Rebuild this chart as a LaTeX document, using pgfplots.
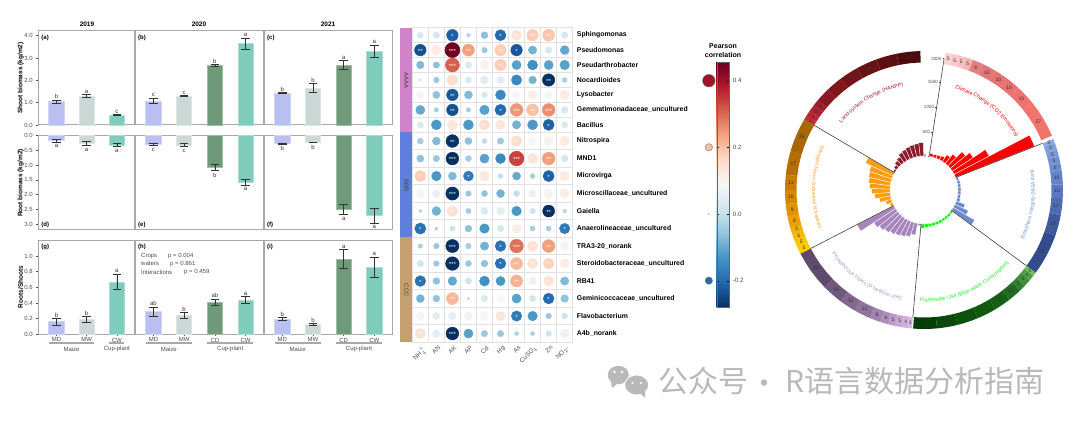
\documentclass[border=0pt]{standalone}
\usepackage{fontspec}
\setmainfont{Liberation Sans}
\newfontfamily\cjk{Noto Sans CJK SC}
\usepackage{pgfplots}
\usepackage{pgfplotstable}
\pgfplotsset{compat=1.18}
\usepgfplotslibrary{polar}
\usetikzlibrary{decorations.text}

\definecolor{cMD}{HTML}{B9C0F1}
\definecolor{cMW}{HTML}{CCD8D5}
\definecolor{cCD}{HTML}{6F9A79}
\definecolor{cCW}{HTML}{80CCBC}
\definecolor{pframe}{HTML}{A8A8A8}
\definecolor{tk}{HTML}{4D4D4D}
\definecolor{cellgrid}{HTML}{E2E2E2}
\definecolor{stripA}{HTML}{D183C9}
\definecolor{stripB}{HTML}{5F7FDC}
\definecolor{stripC}{HTML}{C4A070}
\definecolor{wm}{HTML}{B9B9B9}
\definecolor{cB}{HTML}{6E8BCE}
\definecolor{cP}{HTML}{A585BC}
\definecolor{cO}{HTML}{FF9C0F}
\definecolor{cM}{HTML}{8A1C2C}
\definecolor{txM}{HTML}{A01C3E}
\definecolor{txO}{HTML}{FF9F2A}
\definecolor{txB}{HTML}{7B93D6}
\definecolor{txG}{HTML}{22EE22}
\definecolor{txP}{HTML}{AC90C4}

\newcommand\fs[1]{\fontsize{#1}{#1}\selectfont}

\pgfplotsset{
  colormap={rdbu}{HTML=(053061) HTML=(2166AC) HTML=(4393C3) HTML=(92C5DE) HTML=(D1E5F0)
    HTML=(F7F7F7) HTML=(FDDBC7) HTML=(F4A582) HTML=(D6604D) HTML=(B2182B) HTML=(67001F)},
  /pgf/number format/assume math mode=true,
  panel/.style={scale only axis, anchor=south west, clip=false, xmin=-0.6,
    axis line style={draw=pframe,line width=1pt},
    tick style={draw=tk,line width=.4pt}, major tick length=2pt, tick align=outside,
    xtick pos=bottom, ytick pos=left,
    ticklabel style={font=\fs{6},text=tk},
    yticklabel style={/pgf/number format/fixed,/pgf/number format/fixed zerofill,/pgf/number format/precision=1},
    xticklabel style={yshift=2pt}},
  shoot/.style={panel,height=94pt,ymin=0,ymax=4.21,xtick=\empty},
  root/.style={panel,height=93.3pt,ymin=0,ymax=3.17,y dir=reverse,xtick=\empty},
  ratio/.style={panel,height=94.3pt,ymin=0,ymax=1.204},
}

% one bar with its error bar and letter
\newcommand\bb[6]{%
  \addplot[ybar,bar shift=0pt,bar width=15.3pt,fill=#4,draw=#4!65!white,line width=.6pt,
    error bars/.cd,y dir=both,y explicit,
    error bar style={black!80,line width=.6pt},
    error mark options={rotate=90,black!80,mark size=4.3pt,line width=.6pt}]
    coordinates {(#1,#2) +- (0,#3)};
  \node[font=\fs{6},text=black!80,anchor=#6,inner sep=1pt] at (axis cs:#1,{#2+#3}) {#5};}
\newcommand\bu[5]{\bb{#1}{#2}{#3}{#4}{#5}{south}}
\newcommand\bd[5]{\bb{#1}{#2}{#3}{#4}{#5}{north,yshift=-1.5pt}}
\newcommand\plab[1]{\node[font=\bfseries\fs{6},anchor=north west,inner sep=0pt] at (rel axis cs:0,1) [xshift=3pt,yshift=-3.5pt] {#1};}
\newcommand\plabd[1]{\node[font=\bfseries\fs{6},anchor=south west,inner sep=0pt] at (rel axis cs:0,0) [xshift=3pt,yshift=1.5pt] {#1};}
% underline and group name below a ratio panel
\newcommand\grp[3]{%
  \draw[pframe,line width=1.2pt] (axis cs:#1,-0.111) -- (axis cs:#2,-0.111);
  \node[font=\fs{6},text=tk] at (axis cs:{(#1+#2)/2},-0.19) {#3};}

% circular chart helpers, radius in px, values 0..2000 over 100 px from radius 34
\newcount\segno
\newcommand\ringstart[1]{\def\acur{#1}}
\newcommand\ringseg[2]{%
  \global\advance\segno by 1
  \definecolor{seg\the\segno}{HTML}{#2}%
  \pgfmathsetmacro\aend{\acur-#1*0.58}%
  \pgfmathsetmacro\aq{\acur-#1*0.145}%
  \pgfmathsetmacro\am{\acur-#1*0.29}%
  \pgfmathsetmacro\ar{\acur-#1*0.435}%
  \edef\tmp{\noexpand\addplot[fill=seg\the\segno,draw=none] coordinates {(\acur,127.5)(\acur,139)(\aq,139)(\am,139)(\ar,139)(\aend,139)(\aend,127.5)(\ar,127.5)(\am,127.5)(\aq,127.5)} --cycle;
    \noexpand\node[font=\noexpand\fs{5},text=black!80,inner sep=0pt] at (axis cs:\am,133.2) {#1};}%
  \tmp
  \let\acur\aend}
\newcommand\sectorbars[4]{%
  \pgfmathsetmacro\bcur{#1}%
  \pgfmathsetmacro\bstep{(#2-#1)/10}%
  \pgfplotsforeachungrouped \vv in {#4}{%
    \pgfmathsetmacro\bnext{\bcur+\bstep}%
    \pgfmathsetmacro\rr{34+\vv/20}%
    \edef\tmp{\noexpand\addplot[fill=#3,draw=white,line width=.35pt] coordinates {(\bcur,34)(\bcur,\rr)(\bnext,\rr)(\bnext,34)} --cycle;}%
    \tmp
    \let\bcur\bnext}}
\newcommand\rline[1]{\addplot[black!75,line width=.6pt] coordinates {(#1,34) (#1,127.5)};}
\newcommand\rtick[2]{%
  \draw[black!75,line width=.3pt] (axis cs:81.3,#1) -- ++(-1.5pt,0);
  \node[font=\fs{4.5},text=black!70,anchor=east,inner sep=1pt] at (axis cs:81.3,#1) [xshift=-1.5pt] {#2};}
\newcommand\arclabel[5]{% colour, radius, start, end, text
  \path[decorate,decoration={text along path,text align=center,
    text={|\fs{5.3}\color{#1}|#5}}]
    ([shift={(924pt,234pt)}]#3:#2pt) arc[start angle=#3,end angle=#4,radius=#2pt];}

% x: column, y: row centre from the bottom of the grid, v: Pearson r, s: circle radius, n: stars
\pgfplotstableread{
x y v s n
0.5 307.1 0.02 3 0
1.5 307.1 0.02 3.2 0
2.5 307.1 -0.17 5.8 1
3.5 307.1 -0.01 2 0
4.5 307.1 -0.05 3.5 0
5.5 307.1 -0.16 5.5 1
6.5 307.1 0.14 5 1
7.5 307.1 0.18 5.8 2
8.5 307.1 0.19 6 2
9.5 307.1 0.03 3.4 0
0.5 292.2 -0.19 5.8 2
1.5 292.2 0.12 5 0
2.5 292.2 0.45 7.5 3
3.5 292.2 0.24 6 2
4.5 292.2 -0.04 2.8 0
5.5 292.2 0.18 5.8 2
6.5 292.2 -0.18 5.8 1
7.5 292.2 -0.07 4.2 0
8.5 292.2 0.03 3.3 0
9.5 292.2 -0.08 4.5 0
0.5 277.3 -0.06 3.8 0
1.5 277.3 -0.05 3.2 0
2.5 277.3 0.31 7 3
3.5 277.3 0.03 3.2 0
4.5 277.3 0.1 4.6 0
5.5 277.3 0.18 5.8 2
6.5 277.3 -0.09 4.6 0
7.5 277.3 -0.11 5 0
8.5 277.3 -0.09 4.6 0
9.5 277.3 -0.09 4.8 0
0.5 262.3 -0.01 1 0
1.5 262.3 -0.04 2.8 0
2.5 262.3 0.15 5.5 1
3.5 262.3 0.02 3 0
4.5 262.3 0.05 4.2 0
5.5 262.3 0.05 3.8 0
6.5 262.3 -0.12 5.2 0
7.5 262.3 -0.07 3.8 0
8.5 262.3 -0.24 6.2 2
9.5 262.3 -0.03 2.4 0
0.5 247.4 0.08 4 0
1.5 247.4 -0.05 3.6 0
2.5 247.4 -0.18 5.8 2
3.5 247.4 -0.06 4 0
4.5 247.4 0.02 2.8 0
5.5 247.4 -0.12 5 0
6.5 247.4 0.085 4 0
7.5 247.4 0.11 4.6 0
8.5 247.4 0.085 4 0
9.5 247.4 0.12 4.8 0
0.5 232.4 -0.08 4.6 0
1.5 232.4 -0.03 2.2 0
2.5 232.4 -0.19 5.8 2
3.5 232.4 -0.03 2.2 0
4.5 232.4 -0.09 4.8 0
5.5 232.4 -0.16 5.6 1
6.5 232.4 0.25 6.4 3
7.5 232.4 0.2 6 2
8.5 232.4 0.26 6.4 3
9.5 232.4 0.03 3.4 0
0.5 217.5 0.03 3.2 0
1.5 217.5 -0.1 5 0
2.5 217.5 0.13 5 0
3.5 217.5 -0.1 5 0
4.5 217.5 0.15 5.2 1
5.5 217.5 0.13 4.8 0
6.5 217.5 -0.07 4.2 0
7.5 217.5 -0.1 5 0
8.5 217.5 -0.17 5.6 1
9.5 217.5 0.03 3 0
0.5 201.25 -0.03 3 0
1.5 201.25 -0.06 4 0
2.5 201.25 -0.22 6.4 2
3.5 201.25 -0.05 3.6 0
4.5 201.25 -0.01 2.4 0
5.5 201.25 -0.04 3.2 0
6.5 201.25 0.15 5.4 1
7.5 201.25 0.09 4.4 0
8.5 201.25 0.1 4.6 0
9.5 201.25 0.12 5 0
0.5 183.75 -0.05 3.6 0
1.5 183.75 -0.04 3.2 0
2.5 183.75 -0.25 6.4 3
3.5 183.75 -0.03 3 0
4.5 183.75 -0.09 4.6 0
5.5 183.75 -0.12 5 0
6.5 183.75 0.34 7.4 3
7.5 183.75 0.14 5 1
8.5 183.75 0.24 6.4 2
9.5 183.75 0.02 3.4 0
0.5 166.25 0.18 5.6 1
1.5 166.25 -0.1 4.8 0
2.5 166.25 -0.06 4 0
3.5 166.25 -0.14 5 1
4.5 166.25 0.12 5.2 0
5.5 166.25 0 2.4 0
6.5 166.25 -0.08 4 0
7.5 166.25 -0.03 2.4 0
8.5 166.25 -0.17 5.6 1
9.5 166.25 0.12 5 0
0.5 148.75 0.085 4.2 0
1.5 148.75 0.06 3.8 0
2.5 148.75 -0.27 6.6 3
3.5 148.75 -0.04 2.8 0
4.5 148.75 -0.05 3 0
5.5 148.75 -0.07 4 0
6.5 148.75 0 3 0
7.5 148.75 0.07 3.8 0
8.5 148.75 0.1 4.6 0
9.5 148.75 0.11 4.6 0
0.5 131.25 -0.02 1.6 0
1.5 131.25 -0.07 4.4 0
2.5 131.25 0.14 5.4 1
3.5 131.25 -0.03 2.6 0
4.5 131.25 0.03 3.6 0
5.5 131.25 0.05 3.8 0
6.5 131.25 -0.1 4.8 0
7.5 131.25 0.01 2.8 0
8.5 131.25 -0.23 6 2
9.5 131.25 -0.01 2 0
0.5 113.75 -0.15 5.6 1
1.5 113.75 -0.03 1.6 0
2.5 113.75 0.01 2.6 0
3.5 113.75 -0.05 3.4 0
4.5 113.75 -0.1 4.8 0
5.5 113.75 0.02 3.2 0
6.5 113.75 0.115 4.6 0
7.5 113.75 -0.03 2.6 0
8.5 113.75 -0.03 2.6 0
9.5 113.75 -0.14 5.2 1
0.5 96.25 -0.03 2.2 0
1.5 96.25 -0.04 2.8 0
2.5 96.25 -0.27 6.6 3
3.5 96.25 -0.03 2.8 0
4.5 96.25 -0.07 4.2 0
5.5 96.25 -0.15 5.4 1
6.5 96.25 0.29 6.8 3
7.5 96.25 0.14 5.2 1
8.5 96.25 0.24 6.4 2
9.5 96.25 0.1 4.4 0
0.5 78.75 0.02 3.2 0
1.5 78.75 -0.04 2.8 0
2.5 78.75 -0.28 6.8 3
3.5 78.75 -0.04 3 0
4.5 78.75 -0.05 3.4 0
5.5 78.75 -0.15 5.4 1
6.5 78.75 0.21 6 2
7.5 78.75 0.14 5.2 1
8.5 78.75 0.17 5.4 1
9.5 78.75 0.115 4.6 0
0.5 61.25 -0.15 5.4 1
1.5 61.25 -0.05 3.4 0
2.5 61.25 -0.08 4.4 0
3.5 61.25 0.01 3 0
4.5 61.25 -0.11 5 0
5.5 61.25 -0.1 4.6 0
6.5 61.25 0.22 6 2
7.5 61.25 0.07 3.8 0
8.5 61.25 0.14 5 1
9.5 61.25 -0.06 4.2 0
0.5 43.75 -0.07 4 0
1.5 43.75 -0.05 3.4 0
2.5 43.75 0.21 6 2
3.5 43.75 -0.02 1.2 0
4.5 43.75 0.03 3.4 0
5.5 43.75 0.09 4 0
6.5 43.75 -0.09 4.6 0
7.5 43.75 0.02 3.2 0
8.5 43.75 -0.16 5.4 1
9.5 43.75 -0.05 3.8 0
0.5 26.25 0.08 4 0
1.5 26.25 0.05 3.6 0
2.5 26.25 0.05 3.8 0
3.5 26.25 0.07 4 0
4.5 26.25 0.095 4.2 0
5.5 26.25 0.13 4.8 0
6.5 26.25 -0.14 5.2 1
7.5 26.25 -0.1 4.8 0
8.5 26.25 -0.04 2.8 0
9.5 26.25 0.01 2.8 0
0.5 8.75 0.14 5.2 1
1.5 8.75 0.05 3.8 0
2.5 8.75 -0.27 6.4 3
3.5 8.75 -0.09 4.6 0
4.5 8.75 -0.04 3.2 0
5.5 8.75 -0.04 3.2 0
6.5 8.75 -0.02 2 0
7.5 8.75 -0.03 2 0
8.5 8.75 0.01 2.8 0
9.5 8.75 0.11 4.4 0
}\celltab

\pgfplotstableread{
x y s
0 0.4 6.3
0 0.2 3.7
0 0 0.4
0 -0.2 3.7
}\legtab

\begin{document}
\begin{tikzpicture}
\path[use as bounding box,fill=white] (0,0) rectangle (1080pt,424pt);

\node[font=\bfseries\fs{6.5}] at (87pt,400pt) {2019};
\node[font=\bfseries\fs{6.5}] at (199pt,400pt) {2020};
\node[font=\bfseries\fs{6.5}] at (328pt,400pt) {2021};
\node[font=\bfseries\fs{6.5},rotate=90] at (20.7pt,346pt) {Shoot biomass (kg/m2)};
\node[font=\bfseries\fs{6.5},rotate=90] at (20.7pt,241pt) {Root biomass (kg/m2)};
\node[font=\bfseries\fs{6.5},rotate=90] at (20.7pt,137pt) {Roots/Shoots};

% shoot
\begin{axis}[shoot,at={(38.3pt,299pt)},width=96.7pt,xmax=2.6,ytick={0,1,2,3,4}]
\bu{0}{1.04}{0.08}{cMD}{b}\bu{1}{1.3}{0.06}{cMW}{a}\bu{2}{0.45}{0.02}{cCW}{c}
\plab{(a)}
\end{axis}
\begin{axis}[shoot,at={(135pt,299pt)},width=129pt,xmax=3.6,ytick=\empty]
\bu{0}{1.08}{0.12}{cMD}{c}\bu{1}{1.3}{0.03}{cMW}{c}\bu{2}{2.67}{0.05}{cCD}{b}\bu{3}{3.65}{0.25}{cCW}{a}
\plab{(b)}
\end{axis}
\begin{axis}[shoot,at={(264pt,299pt)},width=128.7pt,xmax=3.6,ytick=\empty]
\bu{0}{1.44}{0.02}{cMD}{b}\bu{1}{1.65}{0.2}{cMW}{b}\bu{2}{2.68}{0.2}{cCD}{a}\bu{3}{3.3}{0.28}{cCW}{a}
\plab{(c)}
\end{axis}

% root
\begin{axis}[root,at={(38.3pt,195pt)},width=96.7pt,xmax=2.6,ytick={0,0.5,1,1.5,2,2.5,3}]
\bd{0}{0.17}{0.04}{cMD}{a}\bd{1}{0.26}{0.07}{cMW}{a}\bd{2}{0.31}{0.06}{cCW}{a}
\plabd{(d)}
\end{axis}
\begin{axis}[root,at={(135pt,195pt)},width=129pt,xmax=3.6,ytick=\empty]
\bd{0}{0.29}{0.03}{cMD}{c}\bd{1}{0.31}{0.06}{cMW}{c}\bd{2}{1.08}{0.1}{cCD}{b}\bd{3}{1.57}{0.1}{cCW}{a}
\plabd{(e)}
\end{axis}
\begin{axis}[root,at={(264pt,195pt)},width=128.7pt,xmax=3.6,ytick=\empty]
\bd{0}{0.27}{0.01}{cMD}{b}\bd{1}{0.22}{0.01}{cMW}{b}\bd{2}{2.5}{0.17}{cCD}{a}\bd{3}{2.72}{0.24}{cCW}{a}
\plabd{(f)}
\end{axis}

% ratio
\begin{axis}[ratio,at={(38.3pt,89.7pt)},width=96.7pt,xmax=2.6,ytick={0,0.2,0.4,0.6,0.8,1},
  xtick={0,1,2},xticklabels={MD,MW,CW}]
\bu{0}{0.16}{0.04}{cMD}{b}\bu{1}{0.19}{0.04}{cMW}{b}\bu{2}{0.67}{0.1}{cCW}{a}
\plab{(g)}
\grp{-0.25}{1.25}{Maize}\grp{1.75}{2.25}{Cup-plant}
\end{axis}
\begin{axis}[ratio,at={(135pt,89.7pt)},width=129pt,xmax=3.6,ytick=\empty,
  xtick={0,1,2,3},xticklabels={MD,MW,CD,CW}]
\bu{0}{0.29}{0.06}{cMD}{ab}\bu{1}{0.24}{0.04}{cMW}{b}\bu{2}{0.41}{0.04}{cCD}{ab}\bu{3}{0.44}{0.04}{cCW}{a}
\plab{(h)}
\grp{-0.25}{1.25}{Maize}\grp{1.75}{3.25}{Cup-plant}
\end{axis}
\begin{axis}[ratio,at={(264pt,89.7pt)},width=128.7pt,xmax=3.6,ytick=\empty,
  xtick={0,1,2,3},xticklabels={MD,MW,CD,CW}]
\bu{0}{0.195}{0.02}{cMD}{b}\bu{1}{0.13}{0.01}{cMW}{b}\bu{2}{0.96}{0.12}{cCD}{a}\bu{3}{0.855}{0.13}{cCW}{a}
\plab{(i)}
\grp{-0.25}{1.25}{Maize}\grp{1.75}{3.25}{Cup-plant}
\end{axis}
\foreach \ty/\a/\b/\bx in {168/Crops/p = 0.004/168,160/waters/p = 0.861/170,152/Interactions/p = 0.459/184}{
  \node[font=\fs{6},text=tk,anchor=west,inner sep=0pt] at (141pt,\ty pt) {\a};
  \node[font=\fs{6},text=tk,anchor=west,inner sep=0pt] at (\bx pt,\ty pt) {\b};}

% bubble heat map
\begin{axis}[anchor=south west,at={(412.3pt,81.7pt)},scale only axis,width=160.4pt,height=314.6pt,
  clip=false,xmin=0,xmax=10,ymin=0,ymax=314.6,colormap name=rdbu,
  point meta min=-0.28,point meta max=0.457,
  axis line style={draw=cellgrid,line width=.8pt},
  major tick length=0pt,minor tick length=0pt,
  xtick={0.5,1.5,2.5,3.5,4.5,5.5,6.5,7.5,8.5,9.5},
  xticklabels={NH$_4^+$,AN,AK,AP,Cd,Hg,As,CuSO$_4$,Zn,NO$_2$-},
  xticklabel style={font=\fs{6.3},text=tk,rotate=45,anchor=north east,inner sep=1pt,yshift=-2pt},
  ytick={8.75,26.25,43.75,61.25,78.75,96.25,113.75,131.25,148.75,166.25,183.75,201.25,217.5,232.4,247.4,262.3,277.3,292.2,307.1},
  yticklabels={A4b\_norank,Flavobacterium,Geminicoccaceae\_uncultured,RB41,Steroidobacteraceae\_uncultured,TRA3-20\_norank,Anaerolineaceae\_uncultured,Gaiella,Microscillaceae\_uncultured,Microvirga,MND1,Nitrospira,Bacillus,Gemmatimonadaceae\_uncultured,Lysobacter,Nocardioides,Pseudarthrobacter,Pseudomonas,Sphingomonas},
  yticklabel pos=right,
  yticklabel style={font=\bfseries\fs{6.9},anchor=west,inner sep=0pt,xshift=4pt},
  minor xtick={0,1,2,3,4,5,6,7,8,9,10},
  minor ytick={0,17.5,35,52.5,70,87.5,105,122.5,140,157.5,175,192.5,210,224.9,239.9,254.8,269.8,284.7,299.6,314.6},
  grid=minor,minor grid style={draw=cellgrid,line width=.8pt}]
\addplot[fill=stripC,draw=none] coordinates {(-0.75,0)(0,0)(0,105)(-0.75,105)} --cycle;
\addplot[fill=stripB,draw=none] coordinates {(-0.75,105)(0,105)(0,210)(-0.75,210)} --cycle;
\addplot[fill=stripA,draw=none] coordinates {(-0.75,210)(0,210)(0,314.6)(-0.75,314.6)} --cycle;
\node[font=\fs{6},text=black!75,rotate=-90] at (axis cs:-0.37,262) {AAAA};
\node[font=\fs{6},text=black!75,rotate=-90] at (axis cs:-0.37,157) {BBB};
\node[font=\fs{6},text=black!75,rotate=-90] at (axis cs:-0.37,52) {CCC};
% my blue readings came out pale, so negative r is pushed a little further down the map
\addplot[scatter,only marks,mark=*,
  point meta={\thisrow{v}*(1+0.25*(\thisrow{v}<0))},
  scatter/use mapped color={draw=mapped color,fill=mapped color},
  visualization depends on={\thisrow{s} \as \ps},
  scatter/@pre marker code/.append style={/tikz/mark size=\ps}]
  table[x=x,y=y] {\celltab};
\addplot[only marks,mark=none,
  visualization depends on={\thisrow{n} \as \nst},
  nodes near coords={\pgfmathtruncatemacro\kst{\nst}\ifcase\kst\or*\or**\or***\fi},
  every node near coord/.append style={anchor=center,font=\fs{6},text=white,inner sep=0pt,yshift=-1.2pt}]
  table[x=x,y=y] {\celltab};
\end{axis}

% size legend and colour bar
\begin{axis}[anchor=south west,at={(701pt,116.7pt)},scale only axis,width=15.7pt,height=245.6pt,
  hide axis,clip=false,xmin=-1,xmax=1,ymin=-0.28,ymax=0.457,colormap name=rdbu,
  point meta min=-0.28,point meta max=0.457,
  colorbar,
  colorbar style={at={(parent axis.north east)},anchor=north west,xshift=-8.5pt,
    width=12.6pt,height=245.6pt,ytick={-0.2,0,0.2,0.4},
    major tick length=2pt,tick align=inside,
    axis line style={draw=black!60,line width=.4pt},
    tick style={black},
    yticklabel style={font=\fs{6.2},text=tk,/pgf/number format/fixed,/pgf/number format/fixed zerofill,/pgf/number format/precision=1}}]
\addplot[scatter,only marks,mark=*,point meta=y,
  scatter/use mapped color={draw=black!55,fill=mapped color},
  visualization depends on={\thisrow{s} \as \ps},
  scatter/@pre marker code/.append style={/tikz/mark size=\ps}]
  table[x=x,y=y] {\legtab};
\end{axis}
\node[font=\bfseries\fs{7},align=center] at (723pt,373.5pt) {Pearson\\[1.5pt]correlation};

% circular chart
\begin{polaraxis}[anchor=center,at={(924pt,234pt)},scale only axis,width=290pt,height=290pt,
  hide axis,clip=false,xmin=0,xmax=360,ymin=0,ymax=145]
\sectorbars{81}{21.5}{red}{60,60,70,90,160,240,400,500,790,1700}
\sectorbars{21.5}{-36.5}{cB}{50,60,60,60,60,60,70,190,300,500}
\sectorbars{-36.5}{-95}{green}{50,50,50,50,60,60,60,60,70,90}
\sectorbars{-95}{-152.7}{cP}{40,240,300,330,360,390,430,470,520,830}
\sectorbars{-152.7}{-210.5}{cO}{60,120,230,310,370,410,440,460,480,610}
\sectorbars{149.5}{90.5}{cM}{40,70,110,140,190,210,230,245,255,270}

\ringstart{149.5}
\ringseg{3}{C8293B}\ringseg{4}{BC2536}\ringseg{5}{AE2032}\ringseg{5}{A21C2C}\ringseg{10}{8E1722}
\ringseg{12}{811519}\ringseg{14}{75131A}\ringseg{15}{691115}\ringseg{15}{5E0E12}\ringseg{17}{4C0A0E}
\ringstart{81}
\ringseg{5}{FBD2D2}\ringseg{5}{FAC9C9}\ringseg{5}{F8C0C0}\ringseg{5}{F5B5B5}\ringseg{8}{E57F7F}
\ringseg{10}{E27575}\ringseg{10}{E67474}\ringseg{10}{E87272}\ringseg{15}{EE7272}\ringseg{27}{F1756C}
\ringstart{21.5}
\ringseg{3}{8FA8E0}\ringseg{5}{83A0DC}\ringseg{5}{7C99D8}\ringseg{5}{7491D3}\ringseg{5}{6E8BCE}
\ringseg{10}{6483C8}\ringseg{10}{5A79C0}\ringseg{12}{4F6CB2}\ringseg{15}{40599B}\ringseg{30}{354C8C}
\ringstart{-36.5}
\ringseg{3}{6FBF5F}\ringseg{4}{52A046}\ringseg{5}{3F8F38}\ringseg{5}{338030}\ringseg{10}{1F6E1F}
\ringseg{12}{156015}\ringseg{14}{0F5A0F}\ringseg{15}{0B520B}\ringseg{15}{084A08}\ringseg{17}{053E05}
\ringstart{-95}
\ringseg{3}{D9B8E6}\ringseg{4}{D0AEDE}\ringseg{5}{C8A7D6}\ringseg{5}{BD9CCB}\ringseg{6}{AE8EBC}
\ringseg{8}{A183AE}\ringseg{12}{8F739C}\ringseg{12}{83688F}\ringseg{15}{70597C}\ringseg{30}{5F4B6B}
\ringstart{-152.7}
\ringseg{5}{FFCC00}\ringseg{5}{FFC400}\ringseg{5}{F7BC05}\ringseg{5}{F0B008}\ringseg{8}{EE9E00}
\ringseg{9}{E59200}\ringseg{10}{D88800}\ringseg{11}{C87D00}\ringseg{17}{B56F00}\ringseg{25}{A86800}

\rline{21.5}\rline{-36.5}\rline{-95}\rline{-152.7}\rline{149.5}
\addplot[black!75,line width=.6pt] coordinates {(81.3,34) (81.3,133)};
\rtick{34}{0}\rtick{59}{500}\rtick{84}{1000}\rtick{109}{1500}\rtick{133}{2000}
\end{polaraxis}

\arclabel{txM}{106}{141}{101}{Land-system Change (HANPP)}
\arclabel{red}{106}{73}{30}{Climate Change (CO2 Emissions)}
\arclabel{txO}{112}{156}{201.4}{Nitrogen Flows (Industrial N fixation)}
\arclabel{txB}{111}{-26}{10.5}{Biosphere Integrity (MSA loss)}
\arclabel{txG}{112}{-92.6}{-40}{Freshwater Use (Blue-water Consumption)}
\arclabel{txP}{112}{215}{258}{Phosphorous Flows (P fertilizer use)}

% watermark
\fill[wm] (618.3pt,49pt) ellipse [x radius=10.5pt,y radius=9.2pt];
\fill[wm] (611pt,43pt) -- (612pt,36pt) -- (618pt,41pt) -- cycle;
\fill[wm,draw=white,line width=.8pt] (636.7pt,39pt) ellipse [x radius=12pt,y radius=10pt];
\fill[wm] (640pt,31pt) -- (645pt,26pt) -- (645pt,33pt) -- cycle;
\fill[white] (614.5pt,52pt) circle (1.4pt) (622pt,52pt) circle (1.4pt) (632.5pt,41pt) circle (1.2pt) (641pt,41pt) circle (1.2pt);
\node[anchor=west,inner sep=0pt,text=wm,font=\cjk\fs{30}] at (658pt,43pt) {公众号};
\node[text=wm,font=\cjk\fs{30},inner sep=0pt] at (764pt,37pt) {·};
\node[anchor=west,inner sep=0pt,text=wm,font=\cjk\fs{30}] at (785pt,43pt) {R语言数据分析指南};
\end{tikzpicture}
\end{document}
